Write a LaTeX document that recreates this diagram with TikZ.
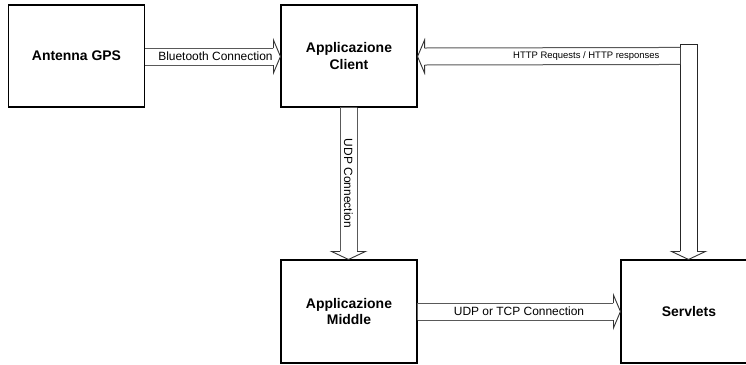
\documentclass[tikz,border=0pt]{standalone}
\usepackage{fontspec}
\setmainfont{Liberation Sans}
\usetikzlibrary{calc}
\tikzset{
  box/.style={draw=black, line width=1.1bp, fill=white, minimum width=136bp, minimum height=102bp,
    inner sep=0pt, align=center, font=\fontsize{14}{17}\selectfont\bfseries},
  shaft/.style={draw=black!65, line width=1bp, fill=white, line join=miter},
  vbar/.style={draw=black!85, line width=1bp, fill=white},
  lbl/.style={font=\fontsize{12}{14}\selectfont, inner sep=0pt},
  slbl/.style={font=\fontsize{9.5}{11}\selectfont, inner sep=0pt},
}
% horizontal fat arrow: #1 tail, #2 tip, #3 direction (+1 right, -1 left)
\newcommand\fatH[3]{%
  \fill[white] ($(#1)+(0,-8.5)$) -- ($(#2)+(-7*#3,-8.5)$) -- ($(#2)+(-7*#3,-16.5)$) -- (#2)
     -- ($(#2)+(-7*#3,16.5)$) -- ($(#2)+(-7*#3,8.5)$) -- ($(#1)+(0,8.5)$) -- cycle;
  \draw[shaft] ($(#1)+(0,-8.5)$) -- ($(#2)+(-7*#3,-8.5)$);
  \draw[shaft] ($(#1)+(0,8.5)$) -- ($(#2)+(-7*#3,8.5)$);
  \draw[black!80, line width=0.9bp] ($(#2)+(-7*#3,-8.5)$) -- ($(#2)+(-7*#3,-16.5)$) -- (#2)
     -- ($(#2)+(-7*#3,16.5)$) -- ($(#2)+(-7*#3,8.5)$);
}
% vertical fat arrow downward: #1 tail, #2 tip, #3 shaft style
\newcommand\fatV[3]{%
  \fill[white] ($(#1)+(-8.5,0)$) -- ($(#2)+(-8.5,-8)$) -- ($(#2)+(-17,-8)$) -- (#2)
     -- ($(#2)+(17,-8)$) -- ($(#2)+(8.5,-8)$) -- ($(#1)+(8.5,0)$) -- cycle;
  \draw[#3] ($(#1)+(-8.5,0)$) -- ($(#2)+(-8.5,-8)$);
  \draw[#3] ($(#1)+(8.5,0)$) -- ($(#2)+(8.5,-8)$);
  \draw[black!80, line width=0.9bp] ($(#2)+(-8.5,-8)$) -- ($(#2)+(-17,-8)$) -- (#2)
     -- ($(#2)+(17,-8)$) -- ($(#2)+(8.5,-8)$);
}
\begin{document}
\begin{tikzpicture}[x=1bp,y=-1bp]
  \useasboundingbox (0,0) rectangle (746,364);
  \clip (0,0) rectangle (746,364);

  \node[box] (gps) at (76.5,56) {Antenna GPS};
  \node[box] (client) at (349,56) {Applicazione\\Client};
  \node[box, minimum height=103bp] (middle) at (349,311.5) {Applicazione\\Middle};
  \node[box, minimum height=103bp] (serv) at (689,311.5) {Servlets};

  % Bluetooth
  \coordinate (bt1) at ($(gps.east)+(0,0.5)$);
  \coordinate (bt2) at ($(client.west)+(0,0.5)$);
  \fatH{bt1}{bt2}{1}
  \path (bt1) -- (bt2) node[lbl, pos=0.52] {Bluetooth Connection};

  % UDP Connection
  \coordinate (u1) at ($(client.south)+(-0.5,0)$);
  \coordinate (u2) at ($(middle.north)+(-0.5,0)$);
  \fatV{u1}{u2}{shaft}
  \path (u1) -- (u2) node[lbl, midway, rotate=-90] {UDP Connection};

  % UDP or TCP
  \coordinate (t1) at (middle.east);
  \coordinate (t2) at (serv.west);
  \fatH{t1}{t2}{1}
  \path (t1) -- (t2) node[lbl, midway] {UDP or TCP Connection};

  % HTTP vertical bar down to Servlets
  \coordinate (vtop) at ($(serv.north |- client.north)+(-0.5,40)$);
  \coordinate (vtip) at ($(serv.north)+(-0.5,0)$);
  \fatV{vtop}{vtip}{vbar}
  \draw[vbar] ($(vtop)+(-8.5,0)$) -- ($(vtop)+(8.5,0)$);

  % HTTP horizontal to client
  \coordinate (h1) at ($(vtop)+(-8.5,11.5)$);
  \coordinate (h2) at ($(client.east)+(0,0.5)$);
  \fatH{h1}{h2}{-1}
  \path (h1) -- (h2) node[slbl, pos=0.357] {HTTP Requests / HTTP responses};
\end{tikzpicture}
\end{document}
